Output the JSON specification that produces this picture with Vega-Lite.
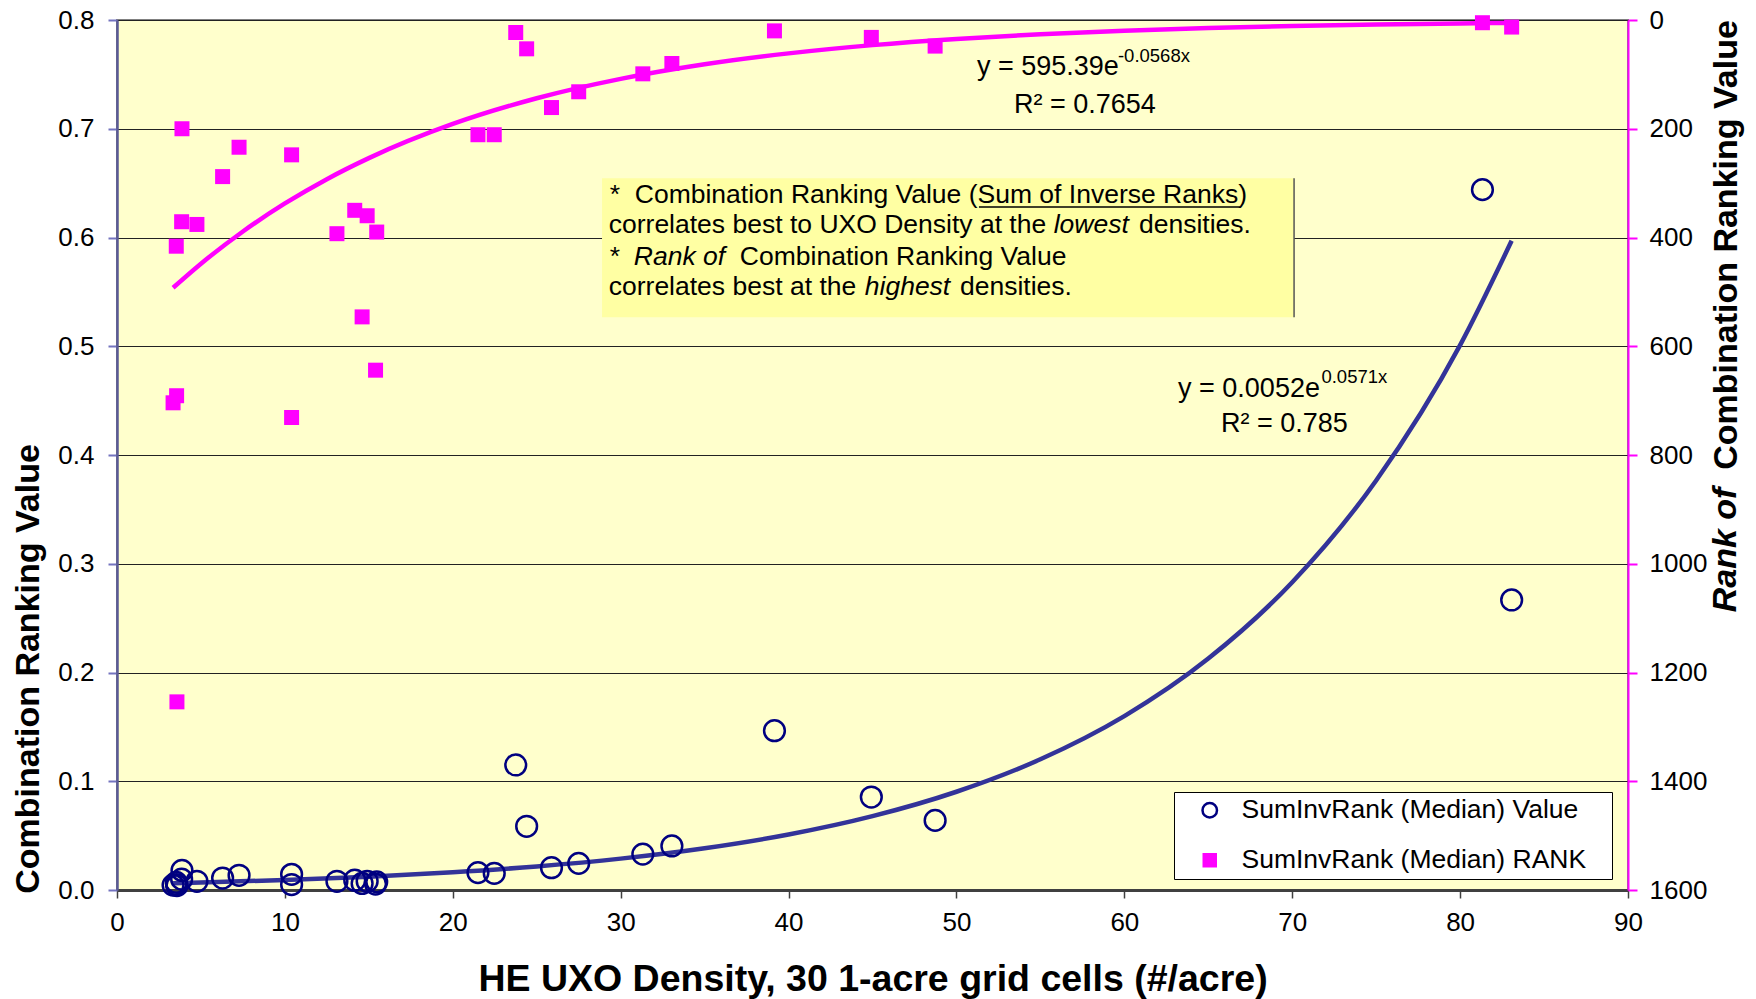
{
  "$schema": "https://vega.github.io/schema/vega-lite/v6.json",
  "width": 1511,
  "height": 870,
  "autosize": {"type": "none"},
  "padding": {"left": 117, "top": 20, "right": 128, "bottom": 109},
  "background": "white",
  "config": {
    "font": "Liberation Sans",
    "view": {"fill": "#FFFFCC", "stroke": "#808080", "strokeWidth": 2},
    "axis": {"labelFont": "Liberation Sans", "titleFont": "Liberation Sans", "labelColor": "#000000", "titleColor": "#000000"},
    "text": {"font": "Liberation Sans", "color": "#000000"},
    "legend": {
      "orient": "none",
      "legendX": 1057,
      "legendY": 772,
      "padding": 5,
      "fillColor": "#FFFFFF",
      "strokeColor": "#000000",
      "symbolSize": 210,
      "symbolStrokeWidth": 2.5,
      "symbolOffset": 17.5,
      "labelOffset": 18.5,
      "labelFontSize": 26.5,
      "labelFont": "Liberation Sans",
      "labelColor": "#000000",
      "labelLimit": 600,
      "rowPadding": 23
    }
  },
  "datasets": {
    "pts": [
      {"density": 3.87, "value": 0.018, "rank": 200},
      {"density": 7.27, "value": 0.0135, "rank": 234},
      {"density": 10.4, "value": 0.0144, "rank": 248},
      {"density": 6.29, "value": 0.011, "rank": 288},
      {"density": 3.85, "value": 0.01, "rank": 371},
      {"density": 4.76, "value": 0.008, "rank": 376},
      {"density": 3.53, "value": 0.007, "rank": 416},
      {"density": 14.16, "value": 0.009, "rank": 350},
      {"density": 14.9, "value": 0.008, "rank": 360},
      {"density": 13.1, "value": 0.008, "rank": 393},
      {"density": 15.47, "value": 0.0075, "rank": 390},
      {"density": 14.6, "value": 0.006, "rank": 546},
      {"density": 15.4, "value": 0.0055, "rank": 644},
      {"density": 3.55, "value": 0.005, "rank": 691},
      {"density": 3.34, "value": 0.0045, "rank": 704},
      {"density": 10.4, "value": 0.005, "rank": 731},
      {"density": 21.5, "value": 0.016, "rank": 211},
      {"density": 22.47, "value": 0.0153, "rank": 211},
      {"density": 23.75, "value": 0.115, "rank": 23},
      {"density": 24.4, "value": 0.0586, "rank": 53},
      {"density": 25.88, "value": 0.0205, "rank": 161},
      {"density": 27.5, "value": 0.0245, "rank": 132},
      {"density": 31.32, "value": 0.033, "rank": 99},
      {"density": 33.05, "value": 0.0405, "rank": 80},
      {"density": 39.16, "value": 0.1465, "rank": 20},
      {"density": 44.93, "value": 0.0855, "rank": 32},
      {"density": 48.73, "value": 0.064, "rank": 48},
      {"density": 81.33, "value": 0.644, "rank": 5},
      {"density": 83.07, "value": 0.2667, "rank": 13},
      {"density": 3.57, "value": 0.004, "rank": 1254}
    ],
    "valueFit": [
      {"density": 3.34, "value": 0.00629},
      {"density": 5, "value": 0.00692},
      {"density": 10, "value": 0.0092},
      {"density": 15, "value": 0.01225},
      {"density": 20, "value": 0.01629},
      {"density": 25, "value": 0.02168},
      {"density": 30, "value": 0.02884},
      {"density": 35, "value": 0.03837},
      {"density": 40, "value": 0.05104},
      {"density": 45, "value": 0.06791},
      {"density": 50, "value": 0.09035},
      {"density": 55, "value": 0.1202},
      {"density": 60, "value": 0.1599},
      {"density": 65, "value": 0.2128},
      {"density": 70, "value": 0.2830},
      {"density": 75, "value": 0.3766},
      {"density": 80, "value": 0.5010},
      {"density": 83.07, "value": 0.5970}
    ],
    "rankFit": [
      {"density": 3.34, "rank": 492.5},
      {"density": 5, "rank": 448.2},
      {"density": 7.5, "rank": 388.9},
      {"density": 10, "rank": 337.4},
      {"density": 12.5, "rank": 292.7},
      {"density": 15, "rank": 254.0},
      {"density": 20, "rank": 191.2},
      {"density": 25, "rank": 143.9},
      {"density": 30, "rank": 108.3},
      {"density": 35, "rank": 81.5},
      {"density": 40, "rank": 61.4},
      {"density": 45, "rank": 46.2},
      {"density": 50, "rank": 34.8},
      {"density": 55, "rank": 26.2},
      {"density": 60, "rank": 19.7},
      {"density": 65, "rank": 14.8},
      {"density": 70, "rank": 11.2},
      {"density": 75, "rank": 8.4},
      {"density": 80, "rank": 6.3},
      {"density": 83.07, "rank": 5.3}
    ],
    "box": [{"density": 28.89, "density2": 70.11, "value": 0.6544, "value2": 0.5266}],
    "boxEdge": [{"density": 70.11, "value": 0.6544, "value2": 0.5266}],
    "underline": [{"density": 51.34, "density2": 66.89, "value": 0.628}],
    "noteNormal": [
      {"density": 29.35, "value": 0.632, "text": "*\u00a0 Combination Ranking Value (Sum of Inverse Ranks)"},
      {"density": 29.29, "value": 0.6039, "text": "correlates best to UXO Density at the"},
      {"density": 60.87, "value": 0.6039, "text": "densities."},
      {"density": 29.35, "value": 0.5747, "text": "*"},
      {"density": 37.1, "value": 0.5747, "text": "Combination Ranking Value"},
      {"density": 29.29, "value": 0.5468, "text": "correlates best at the"},
      {"density": 50.21, "value": 0.5468, "text": "densities."}
    ],
    "noteItalic": [
      {"density": 55.79, "value": 0.6039, "text": "lowest"},
      {"density": 30.78, "value": 0.5747, "text": "Rank of"},
      {"density": 44.54, "value": 0.5468, "text": "highest"}
    ],
    "eqMain": [
      {"density": 51.22, "value": 0.7494, "text": "y = 595.39e"},
      {"density": 53.43, "value": 0.7142, "text": "R² = 0.7654"},
      {"density": 63.2, "value": 0.4536, "text": "y = 0.0052e"},
      {"density": 65.76, "value": 0.4214, "text": "R² = 0.785"}
    ],
    "eqSup": [
      {"density": 59.62, "value": 0.7611, "text": "-0.0568x"},
      {"density": 71.74, "value": 0.4662, "text": "0.0571x"}
    ],
    "rankTitle": [{"density": 95.84, "rank": 974.7, "text": "Rank of"}]
  },
  "encoding": {
    "x": {
      "field": "density",
      "type": "quantitative",
      "scale": {"domain": [0, 90], "nice": false, "zero": false},
      "axis": {
        "title": "HE UXO Density, 30 1-acre grid cells (#/acre)",
        "values": [0, 10, 20, 30, 40, 50, 60, 70, 80, 90],
        "grid": false,
        "labelFlush": false,
        "labelOverlap": false,
        "domainColor": "#404040",
        "domainWidth": 3,
        "tickColor": "#404040",
        "tickWidth": 1.5,
        "tickSize": 8,
        "labelFontSize": 26,
        "labelPadding": 11,
        "titleFontSize": 37.5,
        "titleFontWeight": "bold",
        "titleY": 100,
        "titleBaseline": "alphabetic"
      }
    }
  },
  "layer": [
    {
      "encoding": {
        "y": {
          "field": "value",
          "type": "quantitative",
          "scale": {"domain": [0, 0.8], "nice": false, "zero": false},
          "axis": {
            "title": "Combination Ranking Value",
            "values": [0, 0.1, 0.2, 0.3, 0.4, 0.5, 0.6, 0.7, 0.8],
            "format": ".1f",
            "grid": true,
            "gridColor": "#222222",
            "gridWidth": 1,
            "domainColor": "#5A5A96",
            "domainWidth": 2.5,
            "tickColor": "#7373BF",
            "tickWidth": 2,
            "tickSize": 9,
            "labelFontSize": 26,
            "labelPadding": 14,
            "titleFontSize": 34,
            "titleFontWeight": "bold",
            "titleAngle": 270,
            "titleX": -88.5,
            "titleY": 648.5,
            "titleAlign": "center",
            "titleBaseline": "middle"
          }
        }
      },
      "layer": [
        {"data": {"name": "box"}, "mark": {"type": "rect", "fill": "#FFFFA3"}, "encoding": {"x2": {"field": "density2"}, "y2": {"field": "value2"}}},
        {"data": {"name": "boxEdge"}, "mark": {"type": "rule", "stroke": "#555555", "strokeWidth": 1.5}, "encoding": {"y2": {"field": "value2"}}},
        {"data": {"name": "underline"}, "mark": {"type": "rule", "stroke": "#000000", "strokeWidth": 1.5}, "encoding": {"x2": {"field": "density2"}}},
        {"data": {"name": "noteNormal"}, "mark": {"type": "text", "align": "left", "baseline": "alphabetic", "fontSize": 26.5, "color": "#000000"}, "encoding": {"text": {"field": "text"}}},
        {"data": {"name": "noteItalic"}, "mark": {"type": "text", "align": "left", "baseline": "alphabetic", "fontSize": 26.5, "fontStyle": "italic", "color": "#000000"}, "encoding": {"text": {"field": "text"}}},
        {"data": {"name": "eqMain"}, "mark": {"type": "text", "align": "left", "baseline": "alphabetic", "fontSize": 27, "color": "#000000"}, "encoding": {"text": {"field": "text"}}},
        {"data": {"name": "eqSup"}, "mark": {"type": "text", "align": "left", "baseline": "alphabetic", "fontSize": 18.5, "color": "#000000"}, "encoding": {"text": {"field": "text"}}},
        {"data": {"name": "valueFit"}, "mark": {"type": "line", "color": "#333399", "strokeWidth": 4.5, "interpolate": "monotone"}, "encoding": {}},
        {
          "data": {"name": "pts"},
          "mark": {"type": "point", "size": 430, "strokeWidth": 2.5, "opacity": 1},
          "encoding": {
            "shape": {
              "datum": "SumInvRank (Median) Value",
              "type": "nominal",
              "scale": {"domain": ["SumInvRank (Median) Value", "SumInvRank (Median) RANK"], "range": ["circle", "square"]},
              "legend": {"title": null, "labelExpr": "datum.label + '\u2800'"}
            },
            "fill": {
              "datum": "SumInvRank (Median) Value",
              "type": "nominal",
              "scale": {"domain": ["SumInvRank (Median) Value", "SumInvRank (Median) RANK"], "range": ["transparent", "#FF00FF"]},
              "legend": {"title": null, "labelExpr": "datum.label + '\u2800'"}
            },
            "stroke": {
              "datum": "SumInvRank (Median) Value",
              "type": "nominal",
              "scale": {"domain": ["SumInvRank (Median) Value", "SumInvRank (Median) RANK"], "range": ["#000080", "transparent"]},
              "legend": {"title": null, "labelExpr": "datum.label + '\u2800'"}
            }
          }
        }
      ]
    },
    {
      "encoding": {
        "y": {
          "field": "rank",
          "type": "quantitative",
          "scale": {"domain": [0, 1600], "reverse": true, "nice": false, "zero": false},
          "axis": {
            "orient": "right",
            "title": "Combination Ranking Value",
            "values": [0, 200, 400, 600, 800, 1000, 1200, 1400, 1600],
            "format": "d",
            "grid": false,
            "domainColor": "#FF00FF",
            "domainWidth": 2,
            "tickColor": "#FF00FF",
            "tickWidth": 2,
            "tickSize": 9,
            "labelFontSize": 26,
            "labelPadding": 12,
            "titleFontSize": 34,
            "titleFontWeight": "bold",
            "titleAngle": 270,
            "titleX": 98,
            "titleY": 224.5,
            "titleAlign": "center",
            "titleBaseline": "middle"
          }
        }
      },
      "layer": [
        {"data": {"name": "rankFit"}, "mark": {"type": "line", "color": "#FF00FF", "strokeWidth": 4.5, "interpolate": "monotone"}, "encoding": {}},
        {
          "data": {"name": "pts"},
          "mark": {"type": "point", "size": 225, "strokeWidth": 0, "opacity": 1},
          "encoding": {
            "shape": {
              "datum": "SumInvRank (Median) RANK",
              "type": "nominal",
              "scale": {"domain": ["SumInvRank (Median) Value", "SumInvRank (Median) RANK"], "range": ["circle", "square"]}
            },
            "fill": {
              "datum": "SumInvRank (Median) RANK",
              "type": "nominal",
              "scale": {"domain": ["SumInvRank (Median) Value", "SumInvRank (Median) RANK"], "range": ["transparent", "#FF00FF"]}
            },
            "stroke": {
              "datum": "SumInvRank (Median) RANK",
              "type": "nominal",
              "scale": {"domain": ["SumInvRank (Median) Value", "SumInvRank (Median) RANK"], "range": ["#000080", "transparent"]}
            }
          }
        },
        {"data": {"name": "rankTitle"}, "mark": {"type": "text", "angle": 270, "fontSize": 34, "fontWeight": "bold", "fontStyle": "italic", "align": "center", "baseline": "middle", "color": "#000000"}, "encoding": {"text": {"field": "text"}}}
      ]
    }
  ],
  "resolve": {"scale": {"y": "independent"}}
}
